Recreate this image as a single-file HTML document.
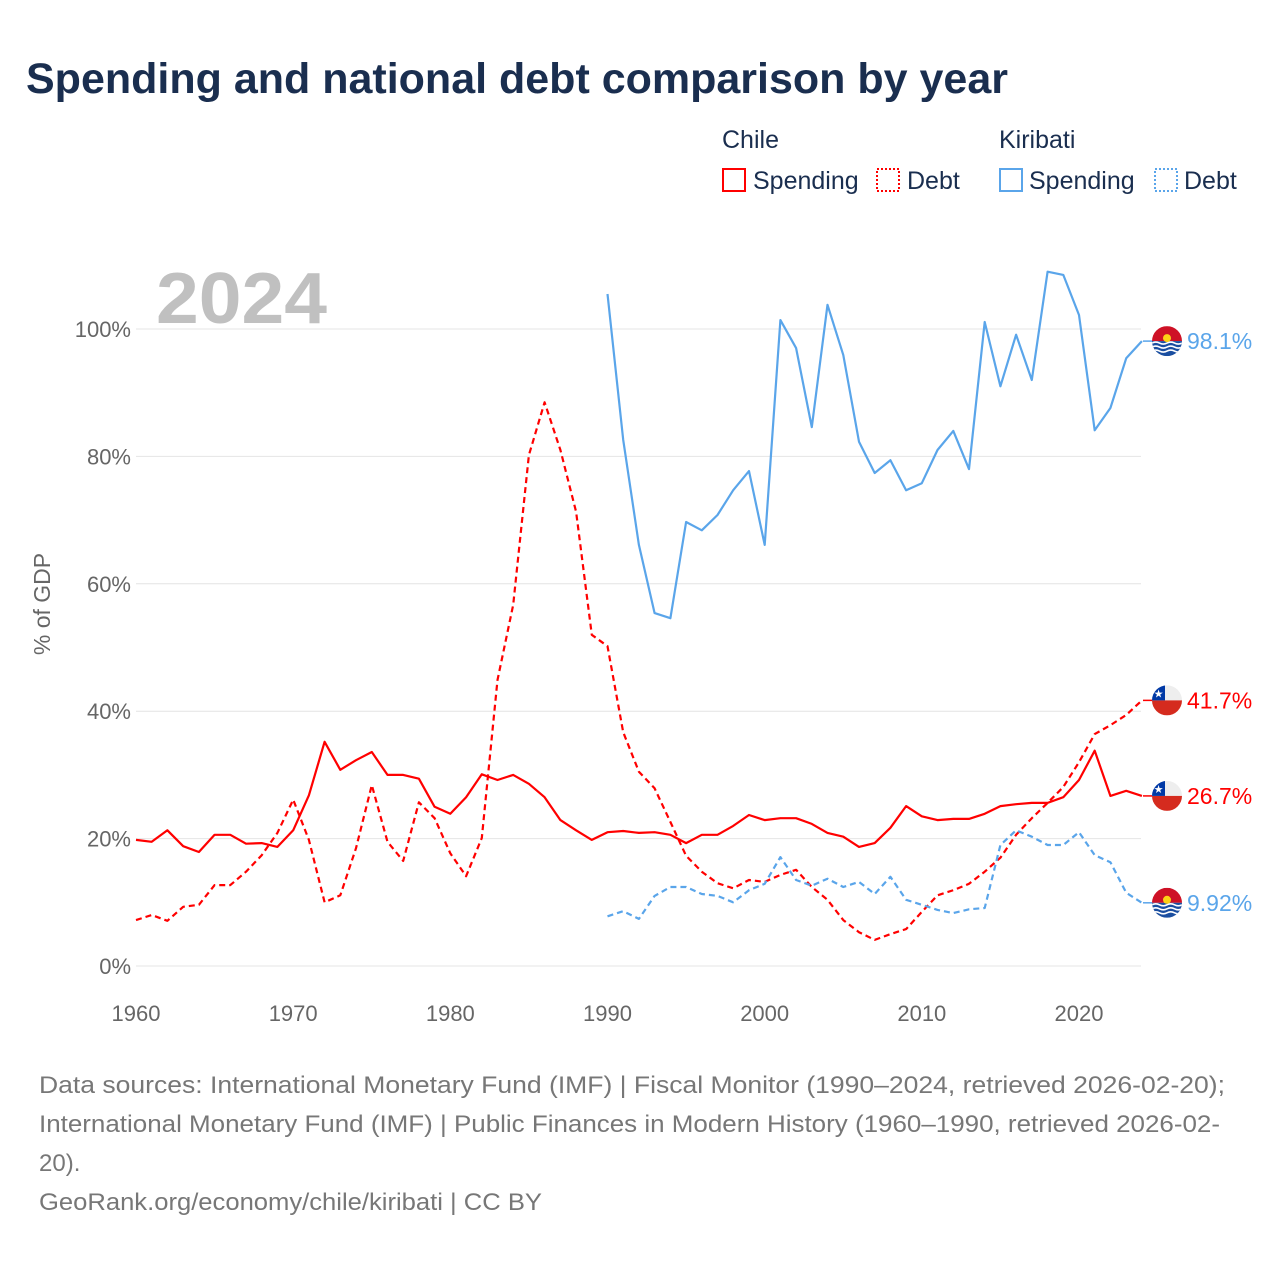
<!DOCTYPE html>
<html><head><meta charset="utf-8"><style>
body{margin:0;background:#fff;}
svg text{font-family:"Liberation Sans",sans-serif;}
</style></head><body>
<svg id="chart" width="1280" height="1280" xmlns="http://www.w3.org/2000/svg">
<rect width="1280" height="1280" fill="#fff"/>
<text x="26" y="93" font-size="43" font-weight="bold" fill="#1a2e4f">Spending and national debt comparison by year</text>
<g fill="#1a2e4f" font-size="25">
<text x="722" y="148">Chile</text>
<text x="999" y="148">Kiribati</text>
<g><rect x="723" y="169" width="22" height="22" fill="none" stroke="#f00" stroke-width="2"/><text x="753" y="189">Spending</text></g>
<g><rect x="877" y="169" width="22" height="22" fill="none" stroke="#f00" stroke-width="2" stroke-dasharray="2,2"/><text x="907" y="189">Debt</text></g>
<g><rect x="1000" y="169" width="22" height="22" fill="none" stroke="#5aa5ea" stroke-width="2"/><text x="1029" y="189">Spending</text></g>
<g><rect x="1155" y="169" width="22" height="22" fill="none" stroke="#5aa5ea" stroke-width="2" stroke-dasharray="2,2"/><text x="1184" y="189">Debt</text></g>
</g>
<text x="156" y="323" font-size="72" font-weight="bold" fill="#c0c0c0" textLength="171" lengthAdjust="spacingAndGlyphs">2024</text>
<text transform="translate(50,604) rotate(-90)" text-anchor="middle" font-size="23" fill="#666">% of GDP</text>
<g id="grid"></g><g id="series"></g><g id="ends"></g>
<g font-size="24" fill="#777">
<text x="39" y="1093" textLength="1186" lengthAdjust="spacingAndGlyphs">Data sources: International Monetary Fund (IMF) | Fiscal Monitor (1990–2024, retrieved 2026-02-20);</text>
<text x="39" y="1132" textLength="1181" lengthAdjust="spacingAndGlyphs">International Monetary Fund (IMF) | Public Finances in Modern History (1960–1990, retrieved 2026-02-</text>
<text x="39" y="1171">20).</text>
<text x="39" y="1210" textLength="503" lengthAdjust="spacingAndGlyphs">GeoRank.org/economy/chile/kiribati | CC BY</text>
</g>
</svg>
<script>
const chileSpending=[19.8,19.5,21.3,18.8,17.9,20.6,20.6,19.2,19.3,18.7,21.3,26.8,35.2,30.8,32.3,33.6,30,30,29.4,25,23.9,26.5,30.1,29.2,30,28.6,26.5,22.9,21.3,19.8,21,21.2,20.9,21,20.6,19.3,20.6,20.6,22,23.7,22.9,23.2,23.2,22.3,20.9,20.3,18.7,19.3,21.7,25.1,23.5,22.9,23.1,23.1,23.9,25.1,25.4,25.6,25.6,26.5,29.2,33.8,26.7,27.5,26.7];
const chileDebt=[7.2,8,7.1,9.3,9.6,12.7,12.7,14.8,17.4,20.9,26.1,19.8,10,11.1,18.5,28.4,19.5,16.5,25.7,23.2,17.7,14.1,20.1,44.9,56.7,80.2,88.5,81,71.3,52,50.2,36.7,30.5,27.9,22.6,17.3,14.8,13,12.2,13.5,13.2,14.3,15.1,12.4,10.4,7.2,5.3,4.1,5,5.8,8.5,11.1,11.9,12.9,14.8,17,20.6,23.2,25.6,28.1,32,36.4,37.8,39.4,41.7];
const kiribatiSpending=[105.5,82.6,66.1,55.4,54.6,69.7,68.4,70.8,74.7,77.7,66.1,101.4,97,84.6,103.8,95.9,82.3,77.4,79.4,74.7,75.8,81,84,78,101.1,91,99.1,92,109,108.5,102.2,84.1,87.6,95.4,98.1];
const kiribatiDebt=[7.8,8.6,7.4,11,12.4,12.4,11.3,11,10,11.9,12.9,17.1,13.5,12.6,13.7,12.4,13.2,11.3,14,10.4,9.6,8.8,8.3,8.9,9.1,19,21.3,20.3,19,19,21,17.4,16.3,11.5,9.92];
const yTicks=[0,20,40,60,80,100];
const xTicks=[1960,1970,1980,1990,2000,2010,2020];
const NS='http://www.w3.org/2000/svg';
const X=y=>136+(y-1960)*(943/60);
const Y=v=>966-v*6.37;
function mk(t,a,p){const e=document.createElementNS(NS,t);for(const k in a)e.setAttribute(k,a[k]);p.appendChild(e);return e;}
const grid=document.getElementById('grid');
yTicks.forEach(v=>{
 const l=mk('line',{x1:136,x2:1141,y1:Y(v),y2:Y(v),stroke:'#e4e4e4','stroke-width':1},grid);
 
 
 const t=mk('text',{x:131,y:Y(v)+8,'text-anchor':'end','font-size':22,fill:'#666'},grid);
 t.textContent=v+'%';
 
 
});
xTicks.forEach(v=>{
 const t=mk('text',{x:X(v),y:1021,'text-anchor':'middle','font-size':22,fill:'#666'},grid);
 t.textContent=v;
 
 
});
const ser=document.getElementById('series');
function line(data,start,color,dash,name){
 const d=data.map((v,i)=>(i?'L':'M')+X(start+i).toFixed(1)+' '+Y(v).toFixed(1)).join(' ');
 const p=mk('path',{d:d,fill:'none',stroke:color,'stroke-width':2.2,'stroke-dasharray':dash||'none','stroke-linejoin':'round'},ser);
 
 
}
line(chileSpending,1960,'#f00','', 'line-chile-spending');
line(chileDebt,1960,'#f00','6,4','line-chile-debt');
line(kiribatiSpending,1990,'#5aa5ea','','line-kiribati-spending');
line(kiribatiDebt,1990,'#5aa5ea','6,4','line-kiribati-debt');
const ends=document.getElementById('ends');
function endLabel(v,color,flag,name){
 const y=Y(v);
 mk('line',{x1:1143,x2:1152,y1:y,y2:y,stroke:color,'stroke-width':1.5},ends);
 const g=mk('g',{},ends);
 
 
 const cx=1167;
 if(flag==='cl'){
  mk('rect',{x:cx-15,y:y-15,width:30,height:15,fill:'#eee'},g);
  mk('rect',{x:cx-15,y:y,width:30,height:15,fill:'#d52b1e'},g);
  mk('rect',{x:cx-15,y:y-15,width:13,height:15,fill:'#0039a6'},g);
  const s=mk('text',{x:cx-8.5,y:y-3,'text-anchor':'middle','font-size':11,fill:'#fff'},g);s.textContent='★';
 }else{
  mk('rect',{x:cx-15,y:y-15,width:30,height:15,fill:'#ce1126'},g);
  mk('rect',{x:cx-15,y:y,width:30,height:15,fill:'#1a4ea0'},g);
  for(let k=0;k<3;k++)mk('path',{d:`M${cx-15} ${y+2+k*4} q3.75 -2 7.5 0 t7.5 0 t7.5 0 t7.5 0`,stroke:'#fff','stroke-width':1.6,fill:'none'},g);
  mk('circle',{cx:cx,cy:y-3,r:4,fill:'#fcd116'},g);
 }
 const clip=mk('clipPath',{id:'c'+name},ends);mk('circle',{cx:cx,cy:y,r:15},clip);
 g.setAttribute('clip-path','url(#c'+name+')');
 const t=mk('text',{x:1187,y:y+8,'font-size':23,fill:color},ends);
 t.textContent=(v>=10?v.toFixed(1):v.toFixed(2))+'%';
 
 
}
endLabel(kiribatiSpending[kiribatiSpending.length-1],'#5aa5ea','ki','end-kiribati-spending');
endLabel(chileDebt[chileDebt.length-1],'#f00','cl','end-chile-debt');
endLabel(chileSpending[chileSpending.length-1],'#f00','cl','end-chile-spending');
endLabel(kiribatiDebt[kiribatiDebt.length-1],'#5aa5ea','ki','end-kiribati-debt');
</script>
</body></html>
